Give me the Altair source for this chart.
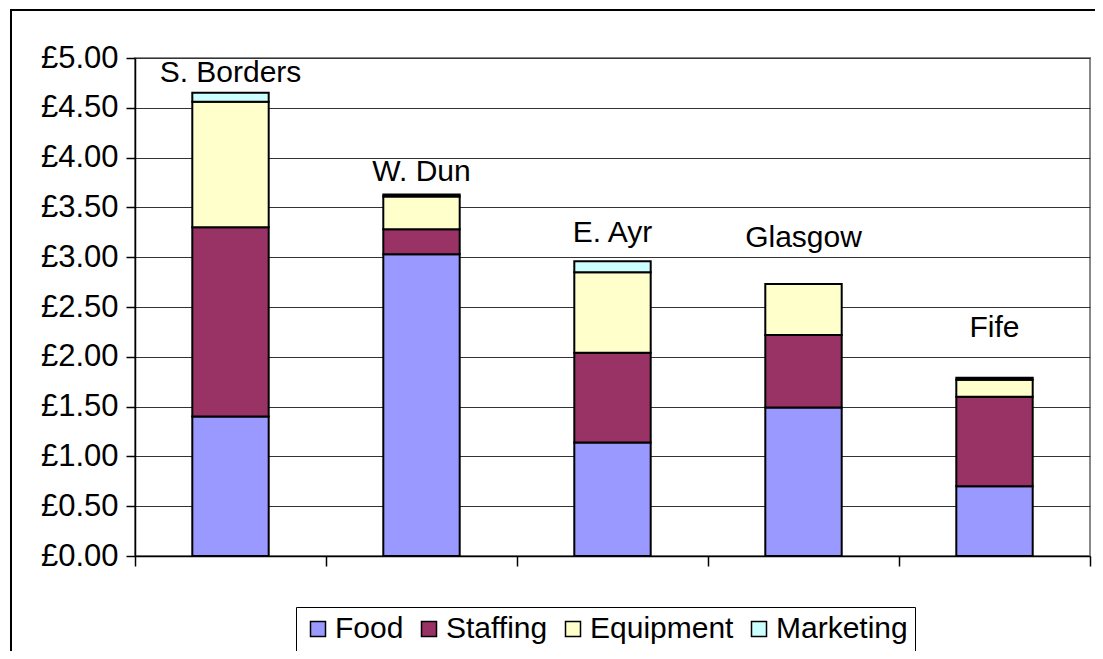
import altair as alt
import pandas as pd

regions = ["S. Borders", "W. Dun", "E. Ayr", "Glasgow", "Fife"]
series = ["Food", "Staffing", "Equipment", "Marketing"]
food = [1.40, 3.03, 1.14, 1.49, 0.70]
staffing = [1.90, 0.25, 0.90, 0.73, 0.90]
equipment = [1.26, 0.33, 0.81, 0.51, 0.17]
marketing = [0.09, 0.02, 0.11, 0.00, 0.02]
label_height = [4.85, 3.86, 3.24, 3.19, 2.29]
colors = ["#9999FF", "#993366", "#FFFFCC", "#CCFFFF"]

rows = []
for i, r in enumerate(regions):
    for j, (s, vals) in enumerate(zip(series, [food, staffing, equipment, marketing])):
        if vals[i] > 0:
            rows.append({"Region": r, "Series": s, "Value": vals[i], "Order": j})
df = pd.DataFrame(rows)
lab = pd.DataFrame({"Region": regions, "Y": label_height})

W, H = 955, 498
FONT = "Liberation Sans"

xenc = alt.X("Region:N", sort=regions,
             scale=alt.Scale(paddingInner=0, paddingOuter=0),
             axis=alt.Axis(title=None, labels=False, tickBand="extent", tickSize=10,
                           tickColor="black", tickWidth=1.5, domainColor="black",
                           domainWidth=1.5, grid=False))

bars = alt.Chart(df).mark_bar(stroke="black", strokeWidth=2,
                              width=alt.RelativeBandSize(0.4)).encode(
    x=xenc,
    y=alt.Y("Value:Q", stack="zero",
            scale=alt.Scale(domain=[0, 5], nice=False),
            axis=alt.Axis(title=None, values=[0, 0.5, 1, 1.5, 2, 2.5, 3, 3.5, 4, 4.5, 5],
                          labelExpr="'£' + format(datum.value, '.2f')",
                          labelFontSize=31, labelFont=FONT, labelColor="black",
                          labelPadding=8, tickSize=9, tickColor="black", tickWidth=1.5,
                          domainColor="black", domainWidth=1.5,
                          grid=True, gridColor="#333333", gridWidth=1)),
    color=alt.Color("Series:N", sort=series,
                    scale=alt.Scale(domain=series, range=colors),
                    legend=alt.Legend(title=None, orient="none", direction="horizontal",
                                      legendX=161, legendY=549,
                                      labelFontSize=30, labelFont=FONT,
                                      labelColor="black",
                                      symbolType="square", symbolSize=225,
                                      symbolStrokeColor="black", symbolStrokeWidth=1.5,
                                      symbolOpacity=1, columnPadding=10, labelOffset=2,
                                      strokeColor="black", padding=7,
                                      fillColor="white")),
    order=alt.Order("Order:Q"),
)

labels = alt.Chart(lab).mark_text(fontSize=30, font=FONT, color="black",
                                  baseline="middle").encode(
    x=alt.X("Region:N", sort=regions),
    y=alt.Y("Y:Q"),
    text="Region:N",
)

frame = alt.Chart(lab).mark_rect(fill=None, stroke="black", strokeWidth=2, clip=False).encode(
    x=alt.value(-124), x2=alt.value(1000), y=alt.value(-48), y2=alt.value(700)
)

chart = alt.layer(frame, bars, labels).properties(
    width=W, height=H,
    padding={"left": 127, "top": 50, "right": 5, "bottom": 95},
    autosize=alt.AutoSizeParams(type="none"),
).configure_view(stroke="#888888", strokeWidth=2)

chart.save("out.html", embed_options={"renderer": "svg", "actions": False})
